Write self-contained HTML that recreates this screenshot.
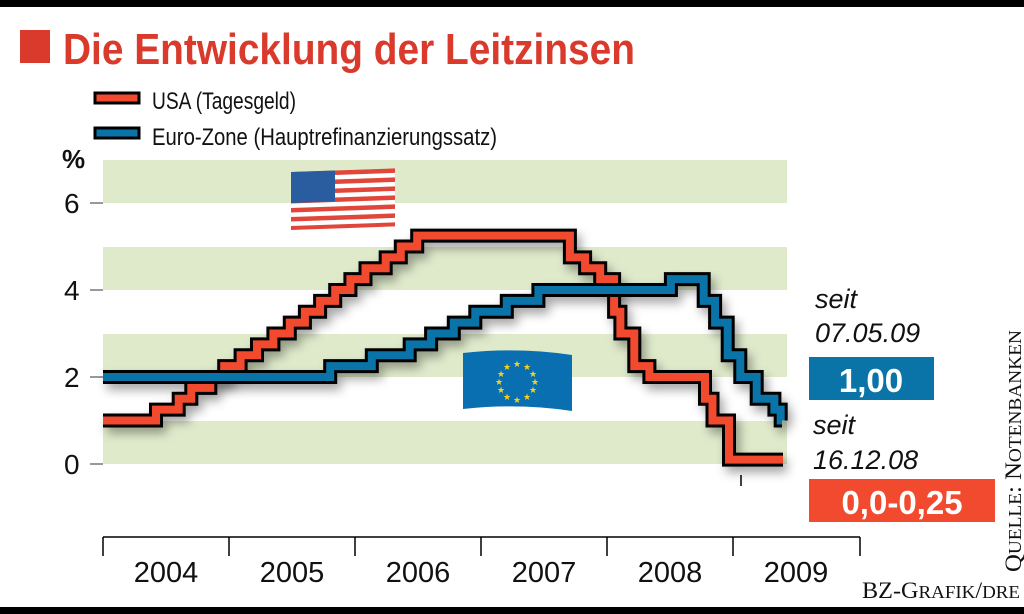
<!DOCTYPE html>
<html><head><meta charset="utf-8"><style>
body{margin:0;width:1024px;height:614px;background:#fff;overflow:hidden;font-family:"Liberation Sans",sans-serif}
</style></head><body>
<svg width="1024" height="614" viewBox="0 0 1024 614" xmlns="http://www.w3.org/2000/svg" style="position:absolute;left:0;top:0">
<defs><filter id="sh" x="-10%" y="-10%" width="120%" height="130%"><feGaussianBlur stdDeviation="5"/></filter></defs>
<rect x="0" y="0" width="1024" height="7" fill="#000"/>
<rect x="0" y="607" width="1024" height="7" fill="#000"/>
<rect x="20" y="30" width="30" height="33" fill="#d93a2b"/>
<text x="63" y="64" font-size="44" font-weight="bold" fill="#d93a2b" textLength="572" lengthAdjust="spacingAndGlyphs">Die Entwicklung der Leitzinsen</text>
<rect x="95" y="93" width="44" height="10" fill="#f24a2e" stroke="#000" stroke-width="3"/>
<text x="152" y="109" font-size="24" fill="#111" textLength="144" lengthAdjust="spacingAndGlyphs">USA (Tagesgeld)</text>
<rect x="95" y="128" width="44" height="10" fill="#0a74a8" stroke="#000" stroke-width="3"/>
<text x="152" y="145" font-size="24" fill="#111" textLength="345" lengthAdjust="spacingAndGlyphs">Euro-Zone (Hauptrefinanzierungssatz)</text>
<g fill="#dfeacb">
<rect x="103" y="160" width="684" height="43"/><rect x="103" y="247" width="684" height="43"/>
<rect x="103" y="334" width="684" height="43"/><rect x="103" y="421" width="684" height="43"/>
</g>
<g font-size="28" fill="#111">
<text x="62" y="168" font-weight="bold" font-size="26">%</text>
<text x="64" y="213">6</text><text x="64" y="300">4</text><text x="64" y="387">2</text><text x="64" y="474">0</text>
</g>
<g stroke="#999" stroke-width="2"><line x1="90" y1="203" x2="103" y2="203"/><line x1="90" y1="290" x2="103" y2="290"/><line x1="90" y1="377" x2="103" y2="377"/><line x1="90" y1="464" x2="103" y2="464"/></g>
<g stroke="#000" stroke-width="1.5" fill="none">
<line x1="103" y1="537" x2="860" y2="537"/>
<line x1="103" y1="537" x2="103" y2="556"/><line x1="229" y1="537" x2="229" y2="556"/><line x1="355" y1="537" x2="355" y2="556"/><line x1="481" y1="537" x2="481" y2="556"/><line x1="607" y1="537" x2="607" y2="556"/><line x1="733" y1="537" x2="733" y2="556"/><line x1="860" y1="537" x2="860" y2="556"/>
<line x1="741" y1="475" x2="741" y2="486"/>
</g>
<g font-size="29" fill="#111" text-anchor="middle">
<text x="166" y="582">2004</text><text x="292" y="582">2005</text><text x="418" y="582">2006</text><text x="544" y="582">2007</text><text x="670" y="582">2008</text><text x="796" y="582">2009</text>
</g>
<g transform="translate(291,172) skewY(-2)">
<rect width="104" height="58" fill="#fff"/>
<g fill="#e0473a"><rect y="0" width="104" height="4.5"/><rect y="9" width="104" height="4.5"/><rect y="18" width="104" height="4.5"/><rect y="27" width="104" height="4.5"/><rect y="36" width="104" height="4.5"/><rect y="45" width="104" height="4.5"/><rect y="54" width="104" height="4"/></g>
<rect width="44" height="31" fill="#2a5ca0"/>
</g>
<g transform="translate(463,351)">
<path d="M0 2 Q55 -4 109 4 L109 60 Q55 52 0 58 Z" fill="#0a6fb0"/>
<g fill="#f7d21c" font-size="9" text-anchor="middle">
<text x="54" y="16">★</text><text x="64" y="19">★</text><text x="70" y="26">★</text><text x="72" y="34">★</text><text x="70" y="42">★</text><text x="64" y="49">★</text><text x="54" y="52">★</text><text x="44" y="49">★</text><text x="38" y="42">★</text><text x="36" y="34">★</text><text x="38" y="26">★</text><text x="44" y="19">★</text>
</g>
</g>
<g id="lines"></g>
<g font-style="italic" font-size="27" fill="#111">
<text x="815" y="308">seit</text><text x="815" y="342">07.05.09</text>
<text x="813" y="434">seit</text><text x="813" y="469">16.12.08</text>
</g>
<rect x="809" y="357" width="125" height="43" fill="#0a74a8"/>
<text x="871" y="392" font-size="33" font-weight="bold" fill="#fff" text-anchor="middle">1,00</text>
<rect x="809" y="479" width="186" height="43" fill="#f24a2e"/>
<text x="902" y="514" font-size="33" font-weight="bold" fill="#fff" text-anchor="middle">0,0-0,25</text>
<text transform="translate(1021,572) rotate(-90)" font-family="Liberation Serif,serif" font-size="23" fill="#111" textLength="242" lengthAdjust="spacingAndGlyphs">Q<tspan font-size="18">UELLE</tspan>: N<tspan font-size="18">OTENBANKEN</tspan></text>
<text x="862" y="598" font-family="Liberation Serif,serif" font-size="23" fill="#111" textLength="158" lengthAdjust="spacingAndGlyphs">BZ-G<tspan font-size="18">RAFIK</tspan>/<tspan font-size="18">DRE</tspan></text>
</svg>
<script>
function X(t){return 103+(t-2004)*126.2}
function Y(v){return 464-v*43.5}
function path(start,steps,end){
 var d='M'+X(2004)+' '+Y(start);
 steps.forEach(function(s){d+=' H'+X(s[0]).toFixed(1)+' V'+Y(s[1]).toFixed(1)});
 d+=' H'+end;return d;}
var us=path(1.0,[[2004.42,1.25],[2004.6,1.5],[2004.7,1.75],[2004.85,2.0],[2004.96,2.25],[2005.09,2.5],[2005.22,2.75],[2005.35,3.0],[2005.48,3.25],[2005.6,3.5],[2005.72,3.75],[2005.84,4.0],[2005.96,4.25],[2006.08,4.5],[2006.24,4.75],[2006.36,5.0],[2006.49,5.25],[2007.7,4.75],[2007.82,4.5],[2007.94,4.25],[2008.05,3.5],[2008.1,3.0],[2008.21,2.25],[2008.33,2.0],[2008.77,1.5],[2008.83,1.0],[2008.96,0.1]],783);
var eu=path(2.0,[[2005.8,2.25],[2006.13,2.5],[2006.43,2.75],[2006.6,3.0],[2006.78,3.25],[2006.95,3.5],[2007.2,3.75],[2007.45,4.0],[2008.5,4.25],[2008.76,3.75],[2008.85,3.25],[2008.95,2.5],[2009.05,2.0],[2009.18,1.5],[2009.32,1.25],[2009.37,1.0]],782);
var ns='http://www.w3.org/2000/svg',g=document.getElementById('lines');
function add(d,w,c,f){var p=document.createElementNS(ns,'path');p.setAttribute('d',d);p.setAttribute('fill','none');p.setAttribute('stroke',c);p.setAttribute('stroke-width',w);if(f){p.setAttribute('filter',f);p.setAttribute('transform','translate(4,6)')}g.appendChild(p);}
add(us,14,'rgba(0,0,0,0.35)','url(#sh)');add(eu,14,'rgba(0,0,0,0.35)','url(#sh)');
add(us,14,'#000');add(us,8,'#f24a2e');
add(eu,14,'#000');add(eu,8,'#0a74a8');
</script>
</body></html>
